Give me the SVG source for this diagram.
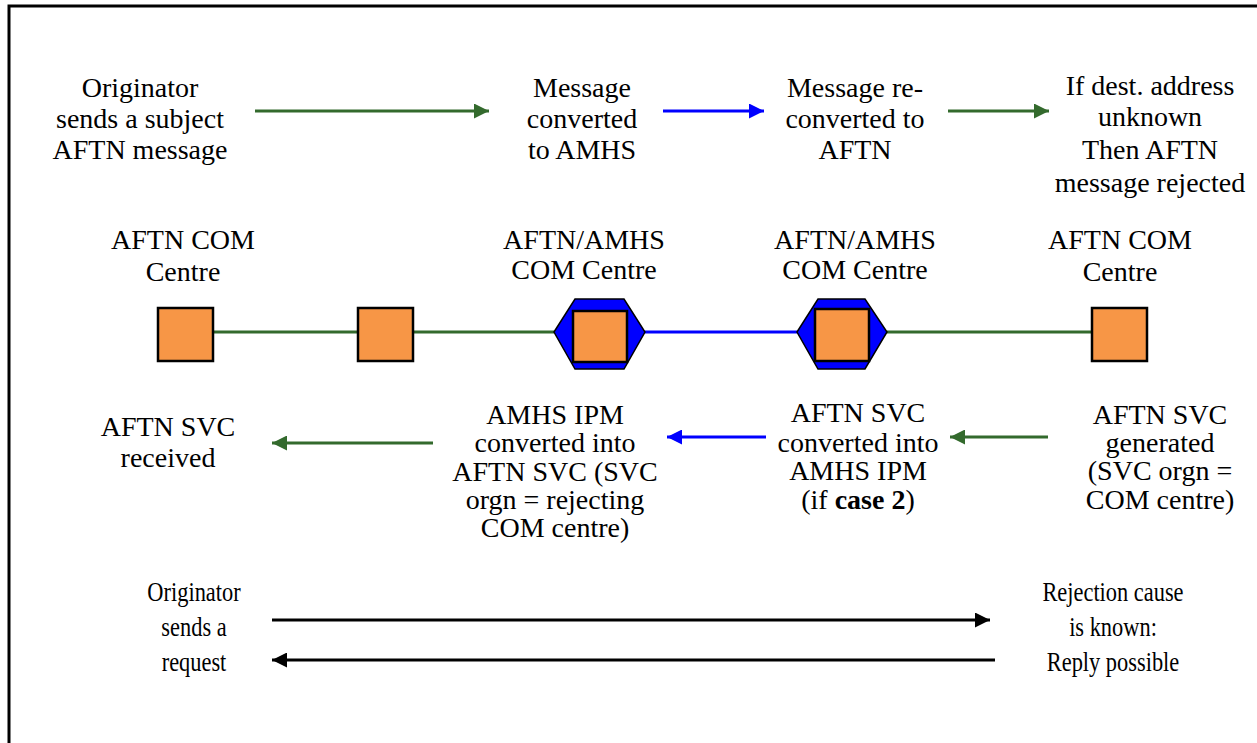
<svg xmlns="http://www.w3.org/2000/svg" width="1257" height="743" viewBox="0 0 1257 743" font-family="Liberation Serif, Tinos, Times New Roman, DejaVu Serif, serif">
<style>
text{font-size:28px;fill:#000;text-anchor:middle}
.sm{font-size:26px}
.g{stroke:#336a2d;stroke-width:3;fill:none}
.b{stroke:#0000ff;stroke-width:3;fill:none}
.k{stroke:#000;stroke-width:3;fill:none}
.sq{fill:#f79646;stroke:#000;stroke-width:2.5}
.hx{fill:#0000ff;stroke:#000;stroke-width:1.5}
</style>
<defs>
<marker id="ag" viewBox="0 0 10 10" refX="10" refY="5" markerWidth="5" markerHeight="5" markerUnits="strokeWidth" orient="auto"><path d="M0,0L10,5L0,10z" fill="#336a2d"/></marker>
<marker id="ab" viewBox="0 0 10 10" refX="10" refY="5" markerWidth="5" markerHeight="5" markerUnits="strokeWidth" orient="auto"><path d="M0,0L10,5L0,10z" fill="#0000ff"/></marker>
<marker id="ak" viewBox="0 0 10 10" refX="10" refY="5" markerWidth="5" markerHeight="5" markerUnits="strokeWidth" orient="auto"><path d="M0,0L10,5L0,10z" fill="#000"/></marker>
</defs>
<rect width="1257" height="743" fill="#fff"/>
<path d="M9,743V6H1257" stroke="#000" stroke-width="3" fill="none"/>

<g id="connectors">
<line class="g" x1="255" y1="111" x2="489" y2="111" marker-end="url(#ag)"/>
<line class="b" x1="663" y1="111" x2="764" y2="111" marker-end="url(#ab)"/>
<line class="g" x1="948" y1="111" x2="1049" y2="111" marker-end="url(#ag)"/>
<line class="g" x1="213" y1="332" x2="358" y2="332"/>
<line class="g" x1="413" y1="332" x2="554" y2="332"/>
<line class="b" x1="645" y1="332" x2="797" y2="332"/>
<line class="g" x1="887" y1="332" x2="1092" y2="332"/>
<line class="g" x1="433" y1="443" x2="272" y2="443" marker-end="url(#ag)"/>
<line class="b" x1="766" y1="437" x2="667" y2="437" marker-end="url(#ab)"/>
<line class="g" x1="1048" y1="437" x2="950" y2="437" marker-end="url(#ag)"/>
<line class="k" x1="272" y1="620" x2="990" y2="620" marker-end="url(#ak)"/>
<line class="k" x1="995" y1="660" x2="272" y2="660" marker-end="url(#ak)"/>
</g>

<g id="t-orig"><text x="140" y="97">Originator</text><text x="140" y="128">sends a subject</text><text x="140" y="159">AFTN message</text></g>
<g id="t-conv"><text x="582" y="97">Message</text><text x="582" y="128">converted</text><text x="582" y="159">to AMHS</text></g>
<g id="t-reconv"><text x="855" y="97">Message re-</text><text x="855" y="128">converted to</text><text x="855" y="159">AFTN</text></g>
<g id="t-reject"><text x="1150" y="95">If dest. address</text><text x="1150" y="126">unknown</text><text x="1150" y="159">Then AFTN</text><text x="1150" y="192">message rejected</text></g>

<g id="l1"><text x="183" y="249">AFTN COM</text><text x="183" y="281">Centre</text></g>
<g id="l2"><text x="584" y="249">AFTN/AMHS</text><text x="584" y="279">COM Centre</text></g>
<g id="l3"><text x="855" y="249">AFTN/AMHS</text><text x="855" y="279">COM Centre</text></g>
<g id="l4"><text x="1120" y="249">AFTN COM</text><text x="1120" y="281">Centre</text></g>

<g id="n1"><rect class="sq" x="158" y="308" width="55" height="53"/></g>
<g id="n2"><rect class="sq" x="358" y="308" width="55" height="53"/></g>
<g id="n3"><polygon class="hx" points="554,332 575,299 624,299 645,332 624,369 575,369"/><rect class="sq" x="573" y="311" width="54" height="51"/></g>
<g id="n4"><polygon class="hx" points="797,332 818,299 865,299 887,332 865,369 818,369"/><rect class="sq" x="815" y="309" width="54" height="52"/></g>
<g id="n5"><rect class="sq" x="1092" y="308" width="55" height="53"/></g>

<g id="t-recv"><text x="168" y="436">AFTN SVC</text><text x="168" y="467">received</text></g>
<g id="t-ipm" class="sm"><text x="555" y="424">AMHS IPM</text><text x="555" y="452">converted into</text><text x="555" y="481">AFTN SVC (SVC</text><text x="555" y="509">orgn = rejecting</text><text x="555" y="537">COM centre)</text></g>
<g id="t-svc" class="sm"><text x="858" y="422">AFTN SVC</text><text x="858" y="452">converted into</text><text x="858" y="480">AMHS IPM</text><text x="858" y="509">(if <tspan font-weight="bold">case 2</tspan>)</text></g>
<g id="t-gen" class="sm"><text x="1160" y="424">AFTN SVC</text><text x="1160" y="452">generated</text><text x="1160" y="480">(SVC orgn =</text><text x="1160" y="509">COM centre)</text></g>

<g id="t-req" transform="translate(194,0) scale(0.8,1)"><text x="0" y="601">Originator</text><text x="0" y="636">sends a</text><text x="0" y="671">request</text></g>
<g id="t-cause" transform="translate(1113,0) scale(0.8,1)"><text x="0" y="601">Rejection cause</text><text x="0" y="636">is known:</text><text x="0" y="671">Reply possible</text></g>
</svg>
